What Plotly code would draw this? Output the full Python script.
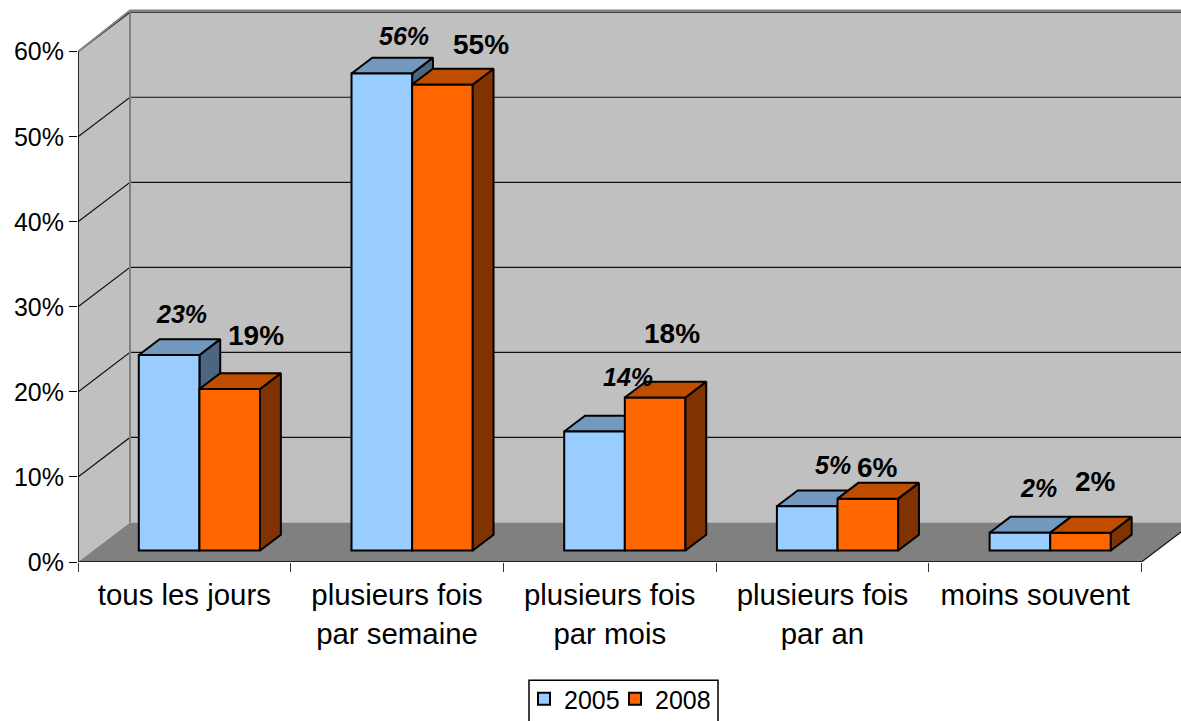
import plotly.graph_objects as go

categories = ["tous les jours", "plusieurs fois<br>par semaine", "plusieurs fois<br>par mois",
              "plusieurs fois<br>par an", "moins souvent"]
years = ["2005", "2008"]
values_2005 = [23, 56.1, 14, 5.2, 2.1]
values_2008 = [19, 54.8, 18, 6.1, 2.1]
y_ticks = [0, 10, 20, 30, 40, 50, 60]

# label offsets from the bar's top centre, in pixels
label_dx_2005 = [12, 22, 33, 26, 19]
label_up_2005 = [41, 37, 54, 41, 45]
label_dx_2008 = [26, 39, 17, 10, 15]
label_up_2008 = [53, 40, 64, 31, 51]

W, H = 1181, 721
LEFT, BASE = 78, 561.7
PX_CAT, PX_PCT = 212.7, 8.5
X_MAX = (W - LEFT) / PX_CAT
Y_MAX = BASE / PX_PCT
DX, DY = 52 / PX_CAT, 39.5 / PX_PCT     # oblique offset of the full depth
Z0, Z1 = 0.29, 0.69                   # depth span of the bars
BAR_W, GAP = 0.285, 0.215
N = len(categories)
C_WALL, C_FLOOR, C_EDGE = "#C0C0C0", "#808080", "#808080"


def proj(x, v, z):
    return x + z * DX, v + z * DY


def poly(points):
    xs, ys = zip(*[proj(*p) for p in points])
    return list(xs) + [xs[0]], list(ys) + [ys[0]]


def fill_trace(polys, fill, line, lw, xa="x", ya="y"):
    xs, ys = [], []
    for p in polys:
        a, b = poly(p)
        xs += a + [None]
        ys += b + [None]
    return go.Scatter(x=xs, y=ys, mode="lines", fill="toself", fillcolor=fill,
                      line=dict(color=line, width=lw), hoverinfo="skip", showlegend=False,
                      xaxis=xa, yaxis=ya)


def line_trace(xs, ys, color, lw):
    return go.Scatter(x=xs, y=ys, mode="lines", line=dict(color=color, width=lw), hoverinfo="skip",
                      showlegend=False, cliponaxis=False)


fig = go.Figure()

# walls and floor
fig.add_trace(fill_trace([[(0, 0, 1), (0, 60, 1), (N + 1, 60, 1), (N + 1, 0, 1)]], C_WALL, C_WALL, 0))
fig.add_trace(fill_trace([[(0, 0, 0), (0, 60, 0), (0, 60, 1), (0, 0, 1)]], C_WALL, C_WALL, 0))
fig.add_trace(fill_trace([[(0, 0, 0), (N, 0, 0), (N, 0, 1), (0, 0, 1)]], C_FLOOR, C_FLOOR, 0))

# gridlines: along the side wall, then along the back wall
for t in y_ticks[1:]:
    x0, y0 = proj(0, t, 0)
    x1, y1 = proj(0, t, 1)
    x2, _ = proj(N + 1, t, 1)
    fig.add_trace(line_trace([x0, x1, x2], [y0, y1, y1], "#111111", 1.2))

# wall edges
x0, y0 = proj(0, 0, 1)
x1, y1 = proj(0, 60, 1)
fig.add_trace(line_trace([x0, x1], [y0, y1], C_EDGE, 2))
x2, _ = proj(N + 1, 60, 1)
x3, y3 = proj(0, 60, 0)
fig.add_trace(line_trace([x3, x1, x2], [y3, y1 + 0.2, y1 + 0.2], C_EDGE, 2))

# floor edges and the two front axis lines
x4, y4 = proj(N, 0, 1)
fig.add_trace(line_trace([N, x4], [0, y4], "#111111", 1.2))
fig.add_trace(line_trace([0, N], [0, 0], "black", 1.6))
fig.add_trace(line_trace([0, 0], [0, 60], "black", 1.6))


def bar_left(series, i):
    return i + GAP + series * BAR_W + Z0 * DX


def top_polys(series, vals):
    return [[(bar_left(series, i) - Z0 * DX, v + 0, Z0), (bar_left(series, i) - Z0 * DX + BAR_W, v, Z0),
             (bar_left(series, i) - Z0 * DX + BAR_W, v, Z1), (bar_left(series, i) - Z0 * DX, v, Z1)]
            for i, v in enumerate(vals)]


def side_polys(series, vals):
    return [[(bar_left(series, i) - Z0 * DX + BAR_W, 0, Z0), (bar_left(series, i) - Z0 * DX + BAR_W, v, Z0),
             (bar_left(series, i) - Z0 * DX + BAR_W, v, Z1), (bar_left(series, i) - Z0 * DX + BAR_W, 0, Z1)]
            for i, v in enumerate(vals)]


base = Z0 * DY
# first series' receding faces sit under every front face
fig.add_trace(fill_trace(side_polys(0, values_2005), "#4D6680", "black", 2))
fig.add_trace(fill_trace(top_polys(0, values_2005), "#7399BF", "black", 2))

# front faces: real bars, on an overlaying pair of axes
for s, (name, vals, col) in enumerate([(years[0], values_2005, "#99CCFF"), (years[1], values_2008, "#FF6600")]):
    fig.add_trace(go.Bar(x=[bar_left(s, i) for i in range(N)], y=vals, base=[base] * N, width=BAR_W, offset=0,
                         name=name, marker=dict(color=col, line=dict(color="black", width=2)),
                         hoverinfo="skip", xaxis="x2", yaxis="y2"))

fig.add_trace(fill_trace(side_polys(1, values_2008), "#803300", "black", 2, "x2", "y2"))
fig.add_trace(fill_trace(top_polys(1, values_2008), "#BF4D00", "black", 2, "x2", "y2"))

annotations = []
for s, (vals, dxs, ups) in enumerate([(values_2005, label_dx_2005, label_up_2005),
                                      (values_2008, label_dx_2008, label_up_2008)]):
    for i, v in enumerate(vals):
        annotations.append(dict(x=bar_left(s, i) + BAR_W / 2, y=v + base, xref="x", yref="y", text=f"{round(v)}%",
                                showarrow=False, xanchor="center", yanchor="middle", xshift=dxs[i], yshift=ups[i],
                                font=dict(family="Liberation Sans", color="black",
                                          size=25 if s == 0 else 28,
                                          weight="bold", style="italic" if s == 0 else "normal")))

fig.update_layout(
    width=W, height=H, margin=dict(l=LEFT, r=0, t=0, b=H - BASE, autoexpand=False),
    paper_bgcolor="white", plot_bgcolor="white", barmode="overlay",
    font=dict(family="Liberation Sans", color="black", size=25),
    xaxis=dict(range=[0, X_MAX], tickmode="array", tickvals=[i + 0.5 for i in range(N)], ticktext=categories,
               ticks="", showgrid=False, zeroline=False, showline=False, tickfont=dict(size=29.4), ticklabelstandoff=13,
               minor=dict(tickmode="array", tickvals=list(range(N + 1)), ticks="outside", ticklen=9, tickwidth=1.2,
                          tickcolor="#333333", showgrid=False)),
    yaxis=dict(range=[0, Y_MAX], tickmode="array", tickvals=y_ticks, ticktext=[f"{t}%" for t in y_ticks],
               ticks="outside", ticklen=8, tickwidth=1.2, tickcolor="black", showgrid=False, zeroline=False,
               showline=False, tickfont=dict(size=25)),
    xaxis2=dict(range=[0, X_MAX], overlaying="x", visible=False),
    yaxis2=dict(range=[0, Y_MAX], overlaying="y", visible=False),
    legend=dict(orientation="h", xref="container", yref="container", x=528 / W, y=1 - 676 / H, xanchor="left",
                yanchor="top", bgcolor="rgba(0,0,0,0)", borderwidth=0, font=dict(size=25),
                traceorder="normal", entrywidth=50, entrywidthmode="pixels", indentation=-4),
    annotations=annotations,
    shapes=[dict(type="rect", xref="paper", yref="paper", layer="below",
                 x0=(529 - LEFT) / (W - LEFT), x1=(718 - LEFT) / (W - LEFT),
                 y0=(BASE - 680) / BASE, y1=(BASE - 730) / BASE,
                 fillcolor="white", line=dict(color="black", width=1.5))],
)

fig.write_html("out.html", post_script="document.body.style.margin='0';", config={"displayModeBar": False})
